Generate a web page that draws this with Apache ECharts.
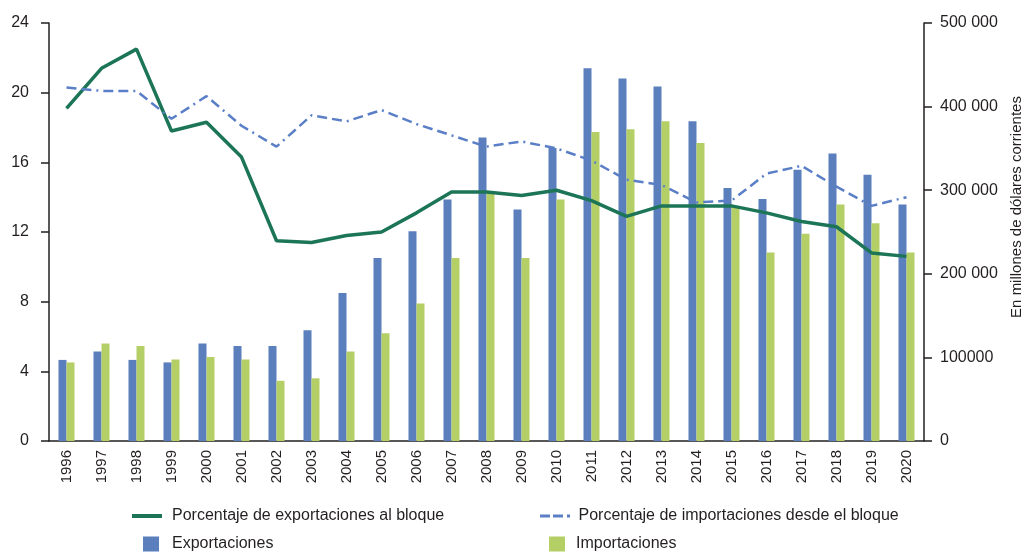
<!DOCTYPE html>
<html>
<head>
<meta charset="utf-8">
<script src="https://cdn.jsdelivr.net/npm/echarts@6/dist/echarts.min.js"></script>
<style>
  html, body { margin: 0; padding: 0; background: #fff; }
  #chart { width: 1028px; height: 555px; }
</style>
</head>
<body>
<div id="chart"></div>
<script>
  // datos
  var years = ['1996', '1997', '1998', '1999', '2000', '2001', '2002', '2003', '2004', '2005', '2006', '2007', '2008',
    '2009', '2010', '2011', '2012', '2013', '2014', '2015', '2016', '2017', '2018', '2019', '2020'];
  var exportShare = [19.1, 21.4, 22.5, 17.8, 18.3, 16.3, 11.5, 11.4, 11.8, 12.0, 13.1, 14.3, 14.3,
    14.1, 14.4, 13.8, 12.9, 13.5, 13.5, 13.5, 13.1, 12.6, 12.3, 10.8, 10.6];
  var importShare = [20.3, 20.1, 20.1, 18.5, 19.8, 18.1, 16.9, 18.7, 18.35, 19.0, 18.2, 17.55, 16.9,
    17.2, 16.8, 16.1, 15.0, 14.7, 13.7, 13.8, 15.35, 15.8, 14.6, 13.5, 14.0];
  var exportsVal = [97000, 107000, 97000, 94000, 116500, 113500, 113500, 132500, 177000, 219000, 251000, 289000, 363000,
    277000, 350500, 446000, 433500, 424000, 382500, 302500, 289500, 324500, 344000, 318500, 283000];
  var importsVal = [94000, 116500, 113500, 97500, 100500, 97500, 72000, 75000, 107000, 129000, 164500, 219000, 296000,
    219000, 289000, 369500, 373000, 382500, 356500, 280000, 225500, 248000, 283000, 260500, 225500];
  var rightTicks = ['0', '100000', '200 000', '300 000', '400 000', '500 000'];

  var FONT = "'Liberation Sans', Arial, sans-serif";
  var TXT = '#231f20';
  // iconos de leyenda: linea continua y raya-raya-punto
  var solidIcon = 'rect';
  var dashIcon = 'path://M0,0h10v3h-10z M13,0h10v3h-10z M27,0h3v3h-3z';

  var myChart = echarts.init(document.getElementById('chart'));
  var option = {
    animation: false,
    textStyle: { fontFamily: FONT },
    grid: { left: 49, right: 104, top: 23, bottom: 114 },
    legend: [{
      left: 127, top: 503, itemWidth: 30, itemHeight: 4,
      data: [{ name: 'Porcentaje de exportaciones al bloque', icon: solidIcon }],
      textStyle: { fontFamily: FONT, fontSize: 16, color: TXT, padding: [0, 0, 0, 5] }
    }, {
      left: 535, top: 503, itemWidth: 33, itemHeight: 3,
      data: [{ name: 'Porcentaje de importaciones desde el bloque', icon: dashIcon }],
      textStyle: { fontFamily: FONT, fontSize: 16, color: TXT, padding: [0, 0, 0, 2] }
    }, {
      left: 138, top: 531, itemWidth: 16, itemHeight: 15, icon: 'rect',
      data: ['Exportaciones'],
      textStyle: { fontFamily: FONT, fontSize: 16, color: TXT, padding: [0, 0, 0, 8] }
    }, {
      left: 544, top: 531, itemWidth: 16, itemHeight: 15, icon: 'rect',
      data: ['Importaciones'],
      textStyle: { fontFamily: FONT, fontSize: 16, color: TXT, padding: [0, 0, 0, 6] }
    }],
    graphic: [{
      type: 'text',
      x: 1017, y: 207,
      rotation: Math.PI / 2,
      style: {
        text: 'En millones de dólares corrientes',
        fontFamily: FONT, fontSize: 15, fill: TXT,
        textAlign: 'center', textVerticalAlign: 'middle'
      }
    }],
    xAxis: {
      type: 'category',
      data: years,
      axisLine: { lineStyle: { color: '#231f20', width: 1.5 } },
      axisTick: { length: 8, lineStyle: { color: '#231f20', width: 1.5 } },
      axisLabel: { rotate: 90, margin: 9, fontFamily: FONT, fontSize: 15, color: TXT }
    },
    yAxis: [{
      type: 'value',
      min: 0, max: 24, interval: 4,
      splitLine: { show: false },
      axisLine: { show: true, lineStyle: { color: '#231f20', width: 1.5 } },
      axisTick: { show: true, length: 8, lineStyle: { color: '#231f20', width: 1.5 } },
      axisLabel: { margin: 20, fontFamily: FONT, fontSize: 16, color: TXT }
    }, {
      type: 'value',
      position: 'right',
      min: 0, max: 500000, interval: 100000,
      splitLine: { show: false },
      axisLine: { show: true, lineStyle: { color: '#231f20', width: 1.5 } },
      axisTick: { show: true, length: 8, lineStyle: { color: '#231f20', width: 1.5 } },
      axisLabel: {
        margin: 16, fontFamily: FONT, fontSize: 16, color: TXT,
        formatter: function (v) { return rightTicks[Math.round(v / 100000)]; }
      }
    }],
    series: [{
      name: 'Exportaciones',
      type: 'bar',
      yAxisIndex: 1,
      data: exportsVal,
      barWidth: 8,
      barGap: '0%',
      itemStyle: { color: '#5b7fbd' }
    }, {
      name: 'Importaciones',
      type: 'bar',
      yAxisIndex: 1,
      data: importsVal,
      barWidth: 8,
      itemStyle: { color: '#b5cf67' }
    }, {
      name: 'Porcentaje de exportaciones al bloque',
      type: 'line',
      yAxisIndex: 0,
      data: exportShare,
      symbol: 'none',
      lineStyle: { color: '#1b7556', width: 3.5 },
      itemStyle: { color: '#1b7556' }
    }, {
      name: 'Porcentaje de importaciones desde el bloque',
      type: 'line',
      yAxisIndex: 0,
      data: importShare,
      symbol: 'none',
      lineStyle: { color: '#5a7fc6', width: 2.5, type: [10, 5, 10, 5, 2, 5] },
      itemStyle: { color: '#5a7fc6' }
    }]
  };
  myChart.setOption(option);
</script>
</body>
</html>
